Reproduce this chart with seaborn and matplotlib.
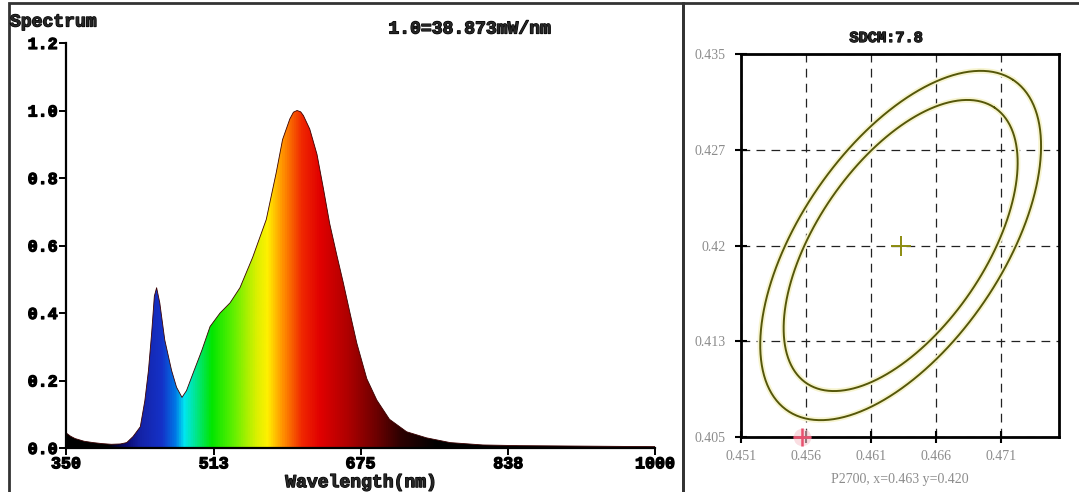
import numpy as np
import matplotlib
matplotlib.use("Agg")
import matplotlib.pyplot as plt
import matplotlib.patheffects as pe
import seaborn as sns
from matplotlib.colors import LinearSegmentedColormap
from matplotlib.patches import Rectangle, PathPatch

# spectrum (relative power, 1.0 = 38.873 mW/nm)
wavelength = [350, 355, 360, 370, 380, 390, 400, 410, 417, 424, 432, 437, 441, 444.5,
              447.5, 450, 453.5, 459, 466.5, 472, 478, 483, 490, 500, 509, 520, 531,
              542, 556, 571, 582, 589, 597, 601, 605, 609, 612, 619, 627, 634, 641,
              649, 656, 663, 671, 682, 693, 707, 726, 748, 774, 810, 850, 900, 950, 1000]
intensity = [0.045, 0.035, 0.028, 0.020, 0.016, 0.013, 0.011, 0.012, 0.016, 0.034,
             0.063, 0.14, 0.23, 0.34, 0.45, 0.475, 0.43, 0.32, 0.23, 0.18, 0.15, 0.17,
             0.22, 0.29, 0.36, 0.40, 0.43, 0.475, 0.565, 0.677, 0.816, 0.914, 0.975,
             0.995, 1.0, 0.996, 0.985, 0.945, 0.87, 0.77, 0.665, 0.57, 0.49, 0.405,
             0.31, 0.205, 0.142, 0.085, 0.048, 0.030, 0.016, 0.009, 0.007, 0.006,
             0.005, 0.004]
spec_xticks = [350, 513, 675, 838, 1000]
spec_yticks = [0.0, 0.2, 0.4, 0.6, 0.8, 1.0, 1.2]
scale_text = "1.0=38.873mW/nm"

# chromaticity panel
cie_xticks = [0.451, 0.456, 0.461, 0.466, 0.471]
cie_xlabels = ["0.451", "0.456", "0.461", "0.466", "0.471"]
cie_yticks = [0.405, 0.4125, 0.42, 0.4275, 0.435]
cie_ylabels = ["0.405", "0.413", "0.42", "0.427", "0.435"]
center_x, center_y = 0.4633, 0.420
meas_x, meas_y = 0.4557, 0.405
ellipse_steps = [5, 6]
step_a, step_b, ellipse_angle = 0.0026, 0.0013, 56.3
sdcm = 7.8
cie_note = "P2700, x=0.463 y=0.420"

# wavelength -> colour for the fill
spec_colors = [(350, "#000000"), (395, "#000000"), (415, "#0a0a70"), (432, "#1423a8"),
               (455, "#1432c8"), (470, "#0078e6"), (480, "#00e6f0"), (495, "#00e678"),
               (510, "#00e600"), (535, "#64f000"), (560, "#dcf000"), (572, "#fff000"),
               (590, "#ff8c00"), (610, "#f02800"), (630, "#e10000"), (660, "#b00000"),
               (690, "#720000"), (720, "#2c0000"), (760, "#000000"), (1000, "#000000")]

sns.set_style("ticks")
plt.rcParams["font.family"] = ["Liberation Mono", "DejaVu Sans Mono"]
plt.rcParams["font.weight"] = "bold"
heavy = [pe.withStroke(linewidth=0.9, foreground="black")]

W, H = 1079, 492
fig = plt.figure(figsize=(W / 100, H / 100), dpi=100)

# ---------- spectrum ----------
ax1 = fig.add_axes([66 / W, (H - 448) / H, 589 / W, 405 / H])
cmap = LinearSegmentedColormap.from_list(
    "spec", [((w - 350) / 650, c) for w, c in spec_colors])
grid = np.linspace(0, 1, 1300)
grad = cmap(grid)[np.newaxis, :, :]
fill = ax1.fill_between(wavelength, intensity, 0, color="none", lw=0)
clip = PathPatch(fill.get_paths()[0], transform=ax1.transData,
                 facecolor="none", edgecolor="none")
ax1.add_patch(clip)
im = ax1.imshow(grad, extent=[350, 1000, 0, 1.2], aspect="auto",
                origin="lower", interpolation="bilinear", zorder=1)
im.set_clip_path(clip)
sns.lineplot(x=wavelength, y=intensity, color="#3a0000", lw=0.6, ax=ax1, zorder=2)

ax1.set_xlim(350, 1000)
ax1.set_ylim(0, 1.2)
ax1.set_xticks(spec_xticks)
ax1.set_yticks(spec_yticks)
ax1.set_yticklabels([f"{v:.1f}" for v in spec_yticks])
for s in ["top", "right"]:
    ax1.spines[s].set_visible(False)
for s in ["left", "bottom"]:
    ax1.spines[s].set_linewidth(1.6)
    ax1.spines[s].set_color("black")
ax1.tick_params(direction="out", length=5, width=1.4, labelsize=12, pad=1, colors="black")
for lab in ax1.get_xticklabels() + ax1.get_yticklabels():
    lab.set_path_effects(heavy)
ax1.set_xlabel("Wavelength(nm)", fontsize=13, fontweight="bold", labelpad=2,
               path_effects=heavy)
ax1.set_ylabel("")

fig.text(10 / W, 1 - 22 / H, "Spectrum", fontsize=13, fontweight="bold",
         va="center", ha="left", path_effects=heavy)
fig.text(469 / W, 1 - 29 / H, scale_text, fontsize=13, fontweight="bold",
         va="center", ha="center", path_effects=heavy)

# ---------- chromaticity / SDCM ----------
ax2 = fig.add_axes([741 / W, (H - 437) / H, 318 / W, 383 / H])
ax2.set_xlim(0.451, 0.4755)
ax2.set_ylim(0.405, 0.435)
ax2.set_xticks(cie_xticks)
ax2.set_xticklabels(cie_xlabels)
ax2.set_yticks(cie_yticks)
ax2.set_yticklabels(cie_ylabels)
ax2.grid(True, ls=(0, (7, 5)), color="#222222", lw=0.9)

t = np.linspace(0, 2 * np.pi, 300)
th = np.deg2rad(ellipse_angle)
for n in ellipse_steps:
    a, b = step_a * n, step_b * n
    ex = center_x + a * np.cos(t) * np.cos(th) - b * np.sin(t) * np.sin(th)
    ey = center_y + a * np.cos(t) * np.sin(th) + b * np.sin(t) * np.cos(th)
    sns.lineplot(x=ex, y=ey, sort=False, estimator=None, color="#f7f4cf",
                 lw=4, ax=ax2, zorder=2)
    sns.lineplot(x=ex, y=ey, sort=False, estimator=None, color="#55570a",
                 lw=1.4, ax=ax2, zorder=3)

sns.scatterplot(x=[center_x], y=[center_y], marker="+", s=220, color="#8c8c10",
                linewidth=1.4, ax=ax2, zorder=4)
sns.scatterplot(x=[meas_x], y=[meas_y], marker="o", s=160, color="#f8c8d0",
                linewidth=0, alpha=0.6, ax=ax2, zorder=5)
sns.scatterplot(x=[meas_x], y=[meas_y], marker="+", s=160, color="#e8506e",
                linewidth=1.8, ax=ax2, zorder=6)
for c in ax2.collections:
    c.set_clip_on(False)

for s in ax2.spines.values():
    s.set_linewidth(2)
    s.set_color("black")
ax2.tick_params(direction="inout", length=8, width=1.5, colors="black",
                labelcolor="#8c8c8c", labelsize=10)
ax2.tick_params(axis="y", pad=7)
ax2.tick_params(axis="x", pad=5)
for lab in ax2.get_xticklabels() + ax2.get_yticklabels():
    lab.set_fontfamily("Liberation Serif")
    lab.set_fontweight("normal")
ax2.set_xlabel("")
ax2.set_ylabel("")

fig.text(886 / W, 1 - 38 / H, f"SDCM:{sdcm}", fontsize=11, fontweight="bold",
         va="center", ha="center", path_effects=heavy)
fig.text(900 / W, 1 - 480 / H, cie_note, fontsize=10, color="#8c8c8c",
         family="Liberation Serif", fontweight="normal", va="center", ha="center")

# panel frames
fig.add_artist(Rectangle((9 / W, -0.05), (683 - 9) / W, 1.05 - 3 / H,
                         transform=fig.transFigure, fill=False, lw=2, ec="#333333"))
fig.add_artist(Rectangle((683 / W, -0.05), 0.5, 1.05 - 3 / H,
                         transform=fig.transFigure, fill=False, lw=2, ec="#333333"))

fig.savefig("out.png", dpi=100)
